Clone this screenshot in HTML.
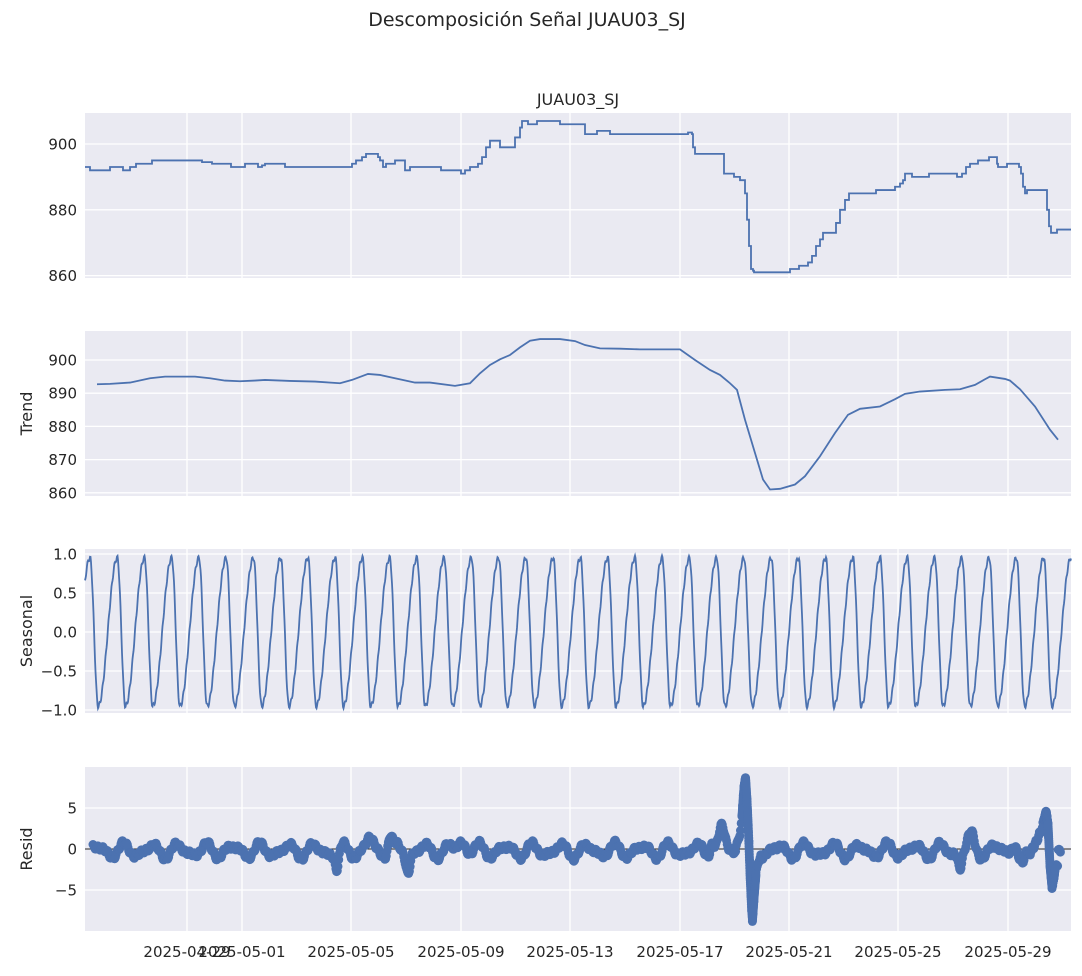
<!DOCTYPE html><html><head><meta charset="utf-8"><style>
body{margin:0;background:#fff;}
svg text{font-family:"DejaVu Sans","Liberation Sans",sans-serif;fill:#262626;}
</style></head><body>
<svg id="s" width="1082" height="971" xmlns="http://www.w3.org/2000/svg"></svg>
<script>
const S=document.getElementById('s');let h='';
const X0=85,X1=1071;
const xt=[[187,'2025-04-29'],[242,'2025-05-01'],[351,'2025-05-05'],[461,'2025-05-09'],[570,'2025-05-13'],[680,'2025-05-17'],[789,'2025-05-21'],[898,'2025-05-25'],[1008,'2025-05-29']];
const P=[
 {t:113,b:278,f:v=>144+(900-v)*3.29,ticks:[[900,'900'],[880,'880'],[860,'860']],lab:''},
 {t:331,b:496,f:v=>360+(900-v)*3.32,ticks:[[900,'900'],[890,'890'],[880,'880'],[870,'870'],[860,'860']],lab:'Trend'},
 {t:549,b:713,f:v=>632-v*78,ticks:[[1,'1.0'],[0.5,'0.5'],[0,'0.0'],[-0.5,'−0.5'],[-1,'−1.0']],lab:'Seasonal'},
 {t:767,b:931,f:v=>849-v*8.2,ticks:[[5,'5'],[0,'0'],[-5,'−5']],lab:'Resid'}];
P.forEach((p,i)=>{
 h+=`<rect x="${X0}" y="${p.t}" width="${X1-X0}" height="${p.b-p.t}" fill="#eaeaf2"/>`;
 xt.forEach(t=>h+=`<line x1="${t[0]}" x2="${t[0]}" y1="${p.t}" y2="${p.b}" stroke="#fff" stroke-width="1.3"/>`);
 p.ticks.forEach(t=>{const y=p.f(t[0]);h+=`<line x1="${X0}" x2="${X1}" y1="${y}" y2="${y}" stroke="#fff" stroke-width="1.3"/><text x="${X0-8}" y="${y+5.5}" font-size="15" text-anchor="end">${t[1]}</text>`;});
 if(p.lab){const cy=(p.t+p.b)/2;h+=`<text transform="translate(32,${cy}) rotate(-90)" font-size="16" text-anchor="middle">${p.lab}</text>`;}
});
h+=`<text x="527" y="26" font-size="19" text-anchor="middle">Descomposición Señal JUAU03_SJ</text>`;
h+=`<text x="578" y="105" font-size="16" text-anchor="middle">JUAU03_SJ</text>`;
xt.forEach(t=>h+=`<text x="${t[0]}" y="957" font-size="15" text-anchor="middle">${t[1]}</text>`);
const ob=[[85,893],[90,892],[110,893],[123,892],[130,893],[136,894],[152,895],[200,895],[202,894.5],[212,894],[230,894],[231,893],[245,894],[258,893],[262,893.5],[265,894],[282,894],[285,893],[345,893],[352,894],[356,895],[362,896],[366,897],[378,896],[380,895],[383,893],[386,894],[395,895],[403,895],[405,892],[410,893],[440,893],[441,892],[460,892],[461,891],[465,892],[470,893],[478,894],[482,896],[486,899],[490,901],[498,901],[500,899],[510,899],[515,902],[520,905],[522,907],[527,907],[528,906],[535,906],[537,907],[558,907],[560,906],[570,906],[583,906],[585,903],[595,903],[597,904],[608,904],[610,903],[685,903],[688,903.5],[692,903],[693,899],[695,897],[722,897],[724,891],[732,891],[734,890],[738,890],[740,889],[744,889],[745,885],[747,877],[749,869],[751,862],[753,861.5],[754,861],[788,861],[790,862],[797,862],[799,863],[806,863],[808,864],[812,866],[816,869],[820,871],[823,873],[832,873],[836,876],[840,880],[845,883],[849,885],[875,885],[876,886],[893,886],[895,887],[900,888],[903,889],[905,891],[910,891],[912,890],[928,890],[929,891],[955,891],[957,890],[962,891],[966,893],[970,894],[976,894],[978,895],[987,895],[989,896],[995,896],[997,894],[998,893],[1005,893],[1007,894],[1017,894],[1019,893],[1021,891],[1023,887],[1025,885],[1027,886],[1045,886],[1047,880],[1049,875],[1051,873],[1055,873],[1057,874],[1071,874]];
let d='';ob.forEach((q,i)=>{const y=P[0].f(q[1]);if(i==0)d+=`M${q[0]},${y}`;else{d+=`H${q[0]}V${y}`;}});
h+=`<path d="${d}" fill="none" stroke="#4c72b0" stroke-width="1.8"/>`;
const tr=[[97,892.7],[110,892.8],[130,893.2],[150,894.5],[165,895],[195,895],[210,894.5],[225,893.8],[240,893.6],[255,893.8],[265,894],[290,893.7],[315,893.5],[340,893],[352,894],[368,895.8],[380,895.5],[395,894.5],[415,893.2],[430,893.2],[455,892.2],[470,893],[480,896],[490,898.5],[500,900.2],[510,901.5],[520,903.8],[530,905.8],[540,906.3],[560,906.3],[575,905.7],[585,904.5],[600,903.5],[620,903.4],[640,903.2],[680,903.2],[695,900],[710,897],[720,895.5],[730,893],[737,891],[745,882],[755,872],[763,864],[770,861],[780,861.2],[795,862.5],[805,865],[820,871],[835,878],[848,883.5],[860,885.3],[880,886],[895,888.2],[905,889.8],[920,890.5],[945,891],[960,891.2],[975,892.5],[985,894.2],[990,895],[1005,894.3],[1010,893.8],[1020,891.2],[1035,886],[1050,879],[1058,876]];
h+=`<polyline points="${tr.map(q=>q[0]+','+P[1].f(q[1])).join(' ')}" fill="none" stroke="#4c72b0" stroke-width="1.8"/>`;
const PER=27.25;
let pts=[];for(let x=X0;x<=X1;x+=0.5){let p=((x-90)/PER)%1;if(p<0)p+=1;let v=p<0.3?0.95*Math.cos(Math.PI*p/0.3):-0.95*Math.cos(Math.PI*(p-0.3)/0.7);v+=0.03*Math.sin(x*2.1);pts.push(x+','+P[2].f(v).toFixed(1));}
h+=`<polyline points="${pts.join(' ')}" fill="none" stroke="#4c72b0" stroke-width="1.8"/>`;
h+=`<line x1="${X0}" x2="${X1}" y1="849" y2="849" stroke="#222" stroke-width="1"/>`;
function bump(x,c,w,a){return a*Math.exp(-((x-c)*(x-c))/(2*w*w));}
function lin(x,arr){for(let i=0;i<arr.length-1;i++){if(x>=arr[i][0]&&x<=arr[i+1][0]){const t=(x-arr[i][0])/(arr[i+1][0]-arr[i][0]);return arr[i][1]+t*(arr[i+1][1]-arr[i][1]);}}return null;}
const spike=[[736,0],[740,2],[742,4],[744,7.5],[745.5,8.7],[747,6],[748.5,2],[750,-3],[751.5,-7],[752.5,-8.7],[754,-6],[756,-3],[758,-1.5],[761,-0.8]];
const spike2=[[1030,-0.5],[1036,0.8],[1042,2.5],[1046,4.6],[1048,3],[1050,-2],[1052,-4.6],[1054,-3.5],[1056,-1.5],[1058,-2.5]];
let c='';
for(let x=93;x<=1061;x+=0.7){
 let v=0.7*Math.sin(2*Math.PI*(x-90)/PER)+0.35*Math.sin(x*0.37)+0.25*Math.sin(x*1.3)-0.2;
 v+=bump(x,337,2,-2.3)+bump(x,408,2,-2.3)+bump(x,390,2,1.8)+bump(x,370,3,1.3)+bump(x,462,4,1.2);
 v+=bump(x,722,3,2.5)+bump(x,712,2,1.5)+bump(x,960,2,-1.8)+bump(x,971,3,1.5)+bump(x,1022,3,-2.5)+bump(x,1014,3,1.2);
 let s=lin(x,spike);if(s!==null)v=s+0.3*Math.sin(x);
 let s2=lin(x,spike2);if(s2!==null)v=s2+0.3*Math.sin(x*1.7);
 c+=`<circle cx="${x.toFixed(1)}" cy="${P[3].f(v).toFixed(1)}" r="4.5" fill="#4c72b0"/>`;
}
for(let x=742;x<=756;x+=0.1){let s=lin(x,spike);c+=`<circle cx="${x.toFixed(1)}" cy="${P[3].f(s).toFixed(1)}" r="4.5" fill="#4c72b0"/>`;}
for(let x=1044;x<=1055;x+=0.1){let s=lin(x,spike2);c+=`<circle cx="${x.toFixed(1)}" cy="${P[3].f(s).toFixed(1)}" r="4.5" fill="#4c72b0"/>`;}
h+=c;
S.innerHTML=h;
</script>
</body></html>
